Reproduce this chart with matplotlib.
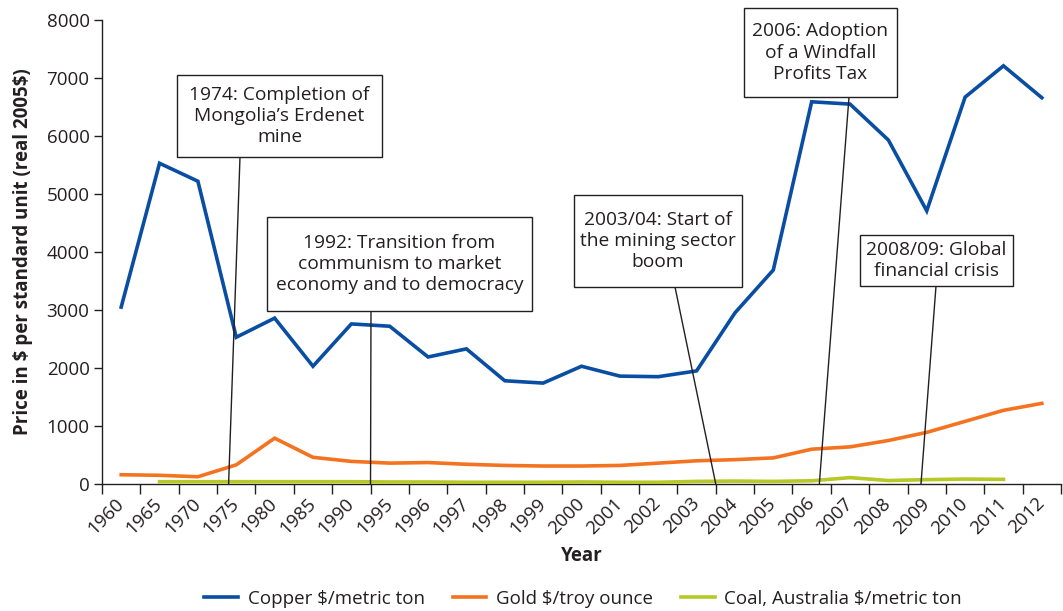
import matplotlib
matplotlib.use("Agg")
import matplotlib.pyplot as plt
from matplotlib.patches import Rectangle
import numpy as np

plt.rcParams['font.family'] = ['Open Sans', 'DejaVu Sans']

years = ["1960", "1965", "1970", "1975", "1980", "1985", "1990", "1995", "1996", "1997",
         "1998", "1999", "2000", "2001", "2002", "2003", "2004", "2005", "2006", "2007",
         "2008", "2009", "2010", "2011", "2012"]
copper = [3050, 5530, 5220, 2530, 2860, 2030, 2760, 2720, 2190, 2330,
          1780, 1740, 2030, 1860, 1850, 1950, 2950, 3690, 6590, 6550,
          5930, 4710, 6670, 7210, 6660]
gold = [160, 150, 125, 330, 790, 460, 390, 360, 370, 340,
        320, 310, 310, 320, 360, 400, 420, 450, 600, 640,
        750, 890, 1080, 1270, 1390]
coal = [None, 40, 40, 40, 40, 40, 40, 35, 35, 30,
        30, 30, 35, 30, 30, 45, 50, 45, 55, 110,
        60, 75, 85, 80, None]

series_names = ["Copper \\$/metric ton", "Gold \\$/troy ounce", "Coal, Australia \\$/metric ton"]
series_colors = ["#0a4ea3", "#f47320", "#b6c926"]

annotations = [
    ("1974: Completion of\nMongolia\u2019s Erdenet\nmine", 2.8),
    ("1992: Transition from\ncommunism to market\neconomy and to democracy", 6.5),
    ("2003/04: Start of\nthe mining sector\nboom", 15.5),
    ("2006: Adoption\nof a Windfall\nProfits Tax", 18.2),
    ("2008/09: Global\nfinancial crisis", 20.85),
]
# box geometry in image pixels (left, top, right, bottom), leader start x
boxes = [
    (177, 75, 382, 157, 240),
    (267, 217, 532, 311, 371),
    (574, 195, 742, 287, 675),
    (744, 8, 897, 97, 849),
    (860, 235, 1013, 286, 936),
]

W, H = 1063, 611
fig = plt.figure(figsize=(W / 100, H / 100), dpi=100)
ax = fig.add_axes([102 / W, 1 - 484 / H, (1061 - 102) / W, (484 - 20) / H])

x = np.arange(len(years))
for vals, name, col in zip([copper, gold, coal], series_names, series_colors):
    v = np.array([np.nan if a is None else a for a in vals], dtype=float)
    ax.plot(x, v, color=col, lw=2.6, label=name, solid_joinstyle='miter', zorder=3)

ax.set_xlim(-0.5, len(years) - 0.5)
ax.set_ylim(0, 8000)
ax.set_yticks(np.arange(0, 8001, 1000))
ax.set_xticks(x)
ax.set_xticklabels(years, rotation=45, ha='right', va='center', rotation_mode='anchor')
ax.set_xticks(np.arange(-0.5, len(years), 1.0), minor=True)
ax.tick_params(axis='x', which='major', length=0, pad=12, labelsize=13.5, colors='#231f20')
ax.tick_params(axis='x', which='minor', length=7, width=1, color='#231f20')
ax.tick_params(axis='y', length=6, width=1, labelsize=13.5, colors='#231f20', pad=3)
for s in ['top', 'right']:
    ax.spines[s].set_visible(False)
for s in ['left', 'bottom']:
    ax.spines[s].set_color('#231f20')
    ax.spines[s].set_linewidth(1)

ax.set_xlabel("Year", fontsize=13.5, fontweight='bold', labelpad=6, color='#231f20')
ax.set_ylabel("Price in \\$ per standard unit (real 2005\\$)", fontsize=13.5, fontweight='bold',
              labelpad=10, color='#231f20')

for (text, xa), (l, t, r, b, lx) in zip(annotations, boxes):
    rect = Rectangle((l / W, 1 - b / H), (r - l) / W, (b - t) / H, transform=fig.transFigure,
                     facecolor='white', edgecolor='#231f20', lw=1, zorder=10)
    fig.add_artist(rect)
    fig.text((l + r) / 2 / W, 1 - (t + b) / 2 / H, text, ha='center', va='center',
             fontsize=13.8, linespacing=1.22, color='#231f20', zorder=11)
    ax.annotate('', xy=(xa, 0), xycoords='data', xytext=(lx, H - b), textcoords='figure pixels',
                arrowprops=dict(arrowstyle='-', lw=1, color='#231f20', shrinkA=0, shrinkB=0),
                zorder=9, annotation_clip=False)

leg = fig.legend(loc='center', bbox_to_anchor=(583 / W, 1 - 599 / H), ncol=3, frameon=False,
                 fontsize=13.5, handlelength=1.8, columnspacing=1.5, handletextpad=0.5)
for t in leg.get_texts():
    t.set_color('#231f20')

fig.savefig("out.png", dpi=100)
